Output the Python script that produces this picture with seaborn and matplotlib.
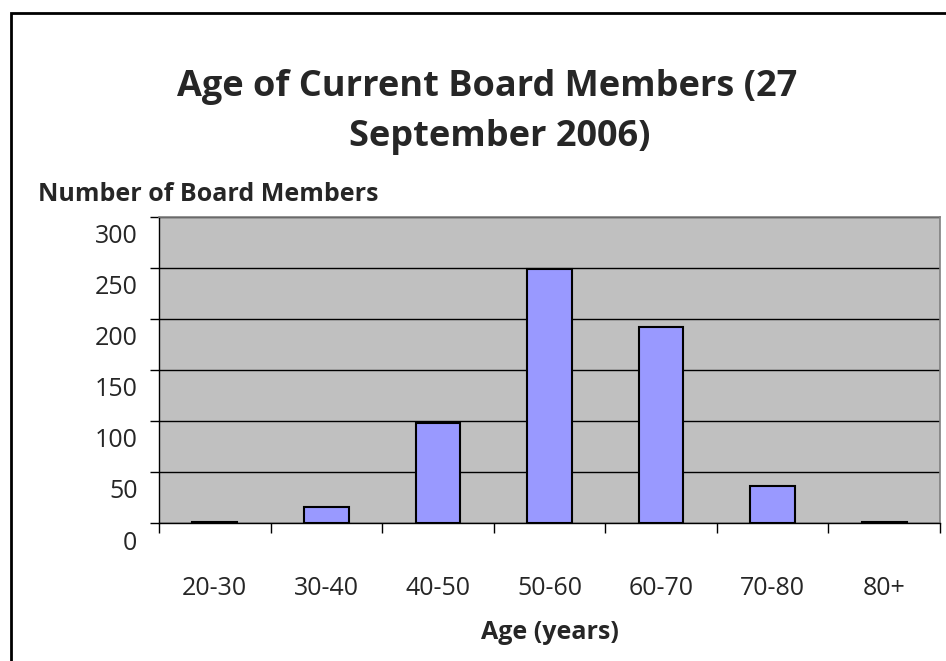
import matplotlib
matplotlib.use('Agg')
import numpy as np
import pandas as pd
import matplotlib.pyplot as plt
import matplotlib.transforms as mtransforms
import seaborn as sns
from matplotlib.patches import Rectangle

# Datos
age_groups = ['20-30', '30-40', '40-50', '50-60', '60-70', '70-80', '80+']
members = [1, 16, 98, 249, 192, 36, 1]
y_ticks = [0, 50, 100, 150, 200, 250, 300]

df = pd.DataFrame({'age': age_groups, 'members': members})

sns.set_theme(style='white')
plt.rcParams['font.family'] = ['Open Sans', 'DejaVu Sans']

W, H = 946, 661
fig = plt.figure(figsize=(W / 100, H / 100), dpi=100)
ax = fig.add_axes([159 / W, (H - 523) / H, 781 / W, 306.5 / H])
ax.set_facecolor('#C0C0C0')

sns.barplot(data=df, x='age', y='members', color='#9999FF', width=0.4,
            edgecolor='black', linewidth=1.5, saturation=1, ax=ax, zorder=3)

ax.set_ylim(0, 300)
ax.set_xlim(-0.5, len(age_groups) - 0.5)
ax.set_yticks(y_ticks)
ax.set_yticklabels([str(t) for t in y_ticks], fontsize=18)
ax.yaxis.grid(True, color='black', linewidth=1, zorder=1)
ax.set_axisbelow(True)

# marcas del eje x entre categorias
ax.set_xticks(np.arange(-0.5, len(age_groups), 1), minor=True)
ax.tick_params(axis='x', which='minor', length=7, width=1, color='black', direction='out', bottom=True)
ax.tick_params(axis='x', which='major', length=0, pad=38, labelsize=18)
ax.tick_params(axis='y', which='major', length=6.5, width=1, color='black', direction='out', left=True, pad=9)

# en el original las etiquetas del eje y quedan algo por debajo de su linea
shift = mtransforms.ScaledTranslation(0, -17 / 100, fig.dpi_scale_trans)
for tick in ax.yaxis.get_major_ticks():
    tick.label1.set_transform(tick.label1.get_transform() + shift)

ax.set_xlabel('Age (years)', fontsize=18, fontweight='bold', labelpad=14)
ax.set_ylabel('')

for side in ['top', 'right']:
    ax.spines[side].set_color('#808080')
    ax.spines[side].set_linewidth(1.2)
for side in ['left', 'bottom']:
    ax.spines[side].set_color('black')
    ax.spines[side].set_linewidth(1)

# titulo en dos lineas
fig.text(487.5 / W, 1 - 96 / H, 'Age of Current Board Members (27',
         ha='center', va='baseline', fontsize=26, fontweight='bold')
fig.text(500 / W, 1 - 146 / H, 'September 2006)',
         ha='center', va='baseline', fontsize=26, fontweight='bold')
fig.text(38 / W, 1 - 201 / H, 'Number of Board Members', ha='left', va='baseline',
         fontsize=18, fontweight='bold')

# borde del grafico
fig.patches.append(Rectangle((11 / W, -0.01), 1.0, 1 - 12.5 / H + 0.01, transform=fig.transFigure,
                             fill=False, edgecolor='black', linewidth=2))

fig.savefig('out.png', dpi=100)
